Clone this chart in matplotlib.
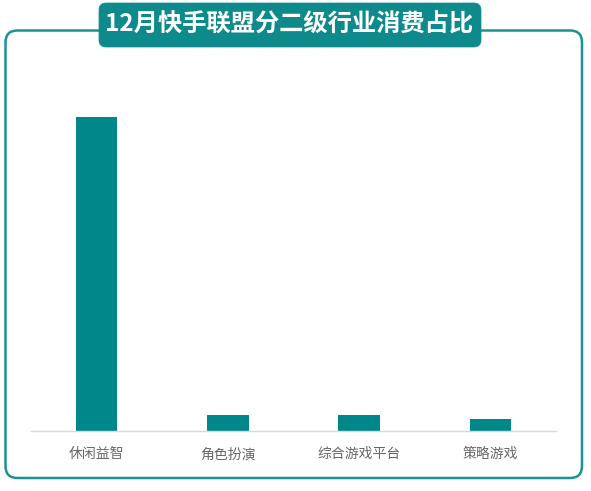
import matplotlib
matplotlib.use("Agg")
import matplotlib.pyplot as plt
from matplotlib.patches import FancyBboxPatch

plt.rcParams['font.family'] = ['Noto Sans CJK SC', 'DejaVu Sans']

title = "12月快手联盟分二级行业消费占比"
categories = ["休闲益智", "角色扮演", "综合游戏平台", "策略游戏"]
values = [88.0, 4.4, 4.4, 3.2]

W, H = 591, 491
DPI = 100
fig = plt.figure(figsize=(W / DPI, H / DPI), dpi=DPI)
fig.patch.set_facecolor("white")

TEAL = "#0E8A8C"
BAR = "#00878A"


def px(x, y_top):
    """pixel (from top-left) -> inches (from bottom-left)"""
    return x / DPI, (H - y_top) / DPI


# outer rounded border
x0, y0 = px(5.5, 478)
x1, y1 = px(582, 30.5)
border = FancyBboxPatch((x0, y0), x1 - x0, y1 - y0,
                        boxstyle="round,pad=0,rounding_size=0.12",
                        transform=fig.dpi_scale_trans, facecolor="none",
                        edgecolor="#1A9294", linewidth=1.8, zorder=1)
fig.patches.append(border)

# title box
tx0, ty0 = px(99, 47)
tx1, ty1 = px(481, 3)
tbox = FancyBboxPatch((tx0, ty0), tx1 - tx0, ty1 - ty0,
                      boxstyle="round,pad=0,rounding_size=0.07",
                      transform=fig.dpi_scale_trans, facecolor=TEAL,
                      edgecolor=TEAL, linewidth=0.5, zorder=2)
fig.patches.append(tbox)
cx, cy = px(289, 25)
fig.text(cx, cy, title, transform=fig.dpi_scale_trans, ha="center", va="center",
         color="white", fontsize=17.5, fontweight="bold", zorder=3)

# axes
left, right = 31, 556
base, top = 430.7, 74.6
ax = fig.add_axes([left / W, 1 - base / H, (right - left) / W, (base - top) / H])
ax.set_facecolor("none")
xs = range(len(categories))
ax.bar(xs, values, width=0.315, color=BAR, zorder=2)
ax.set_xlim(-0.5, len(categories) - 0.5)
ax.set_ylim(0, 100)
for s in ["top", "right", "left"]:
    ax.spines[s].set_visible(False)
ax.spines["bottom"].set_color("#D9D9D9")
ax.spines["bottom"].set_linewidth(1.0)
ax.set_yticks([])
ax.set_xticks(list(xs))
ax.set_xticklabels(categories, fontsize=10, color="#666666")
ax.tick_params(axis="x", length=0, pad=12)

fig.savefig("out.png", dpi=DPI, facecolor="white")
